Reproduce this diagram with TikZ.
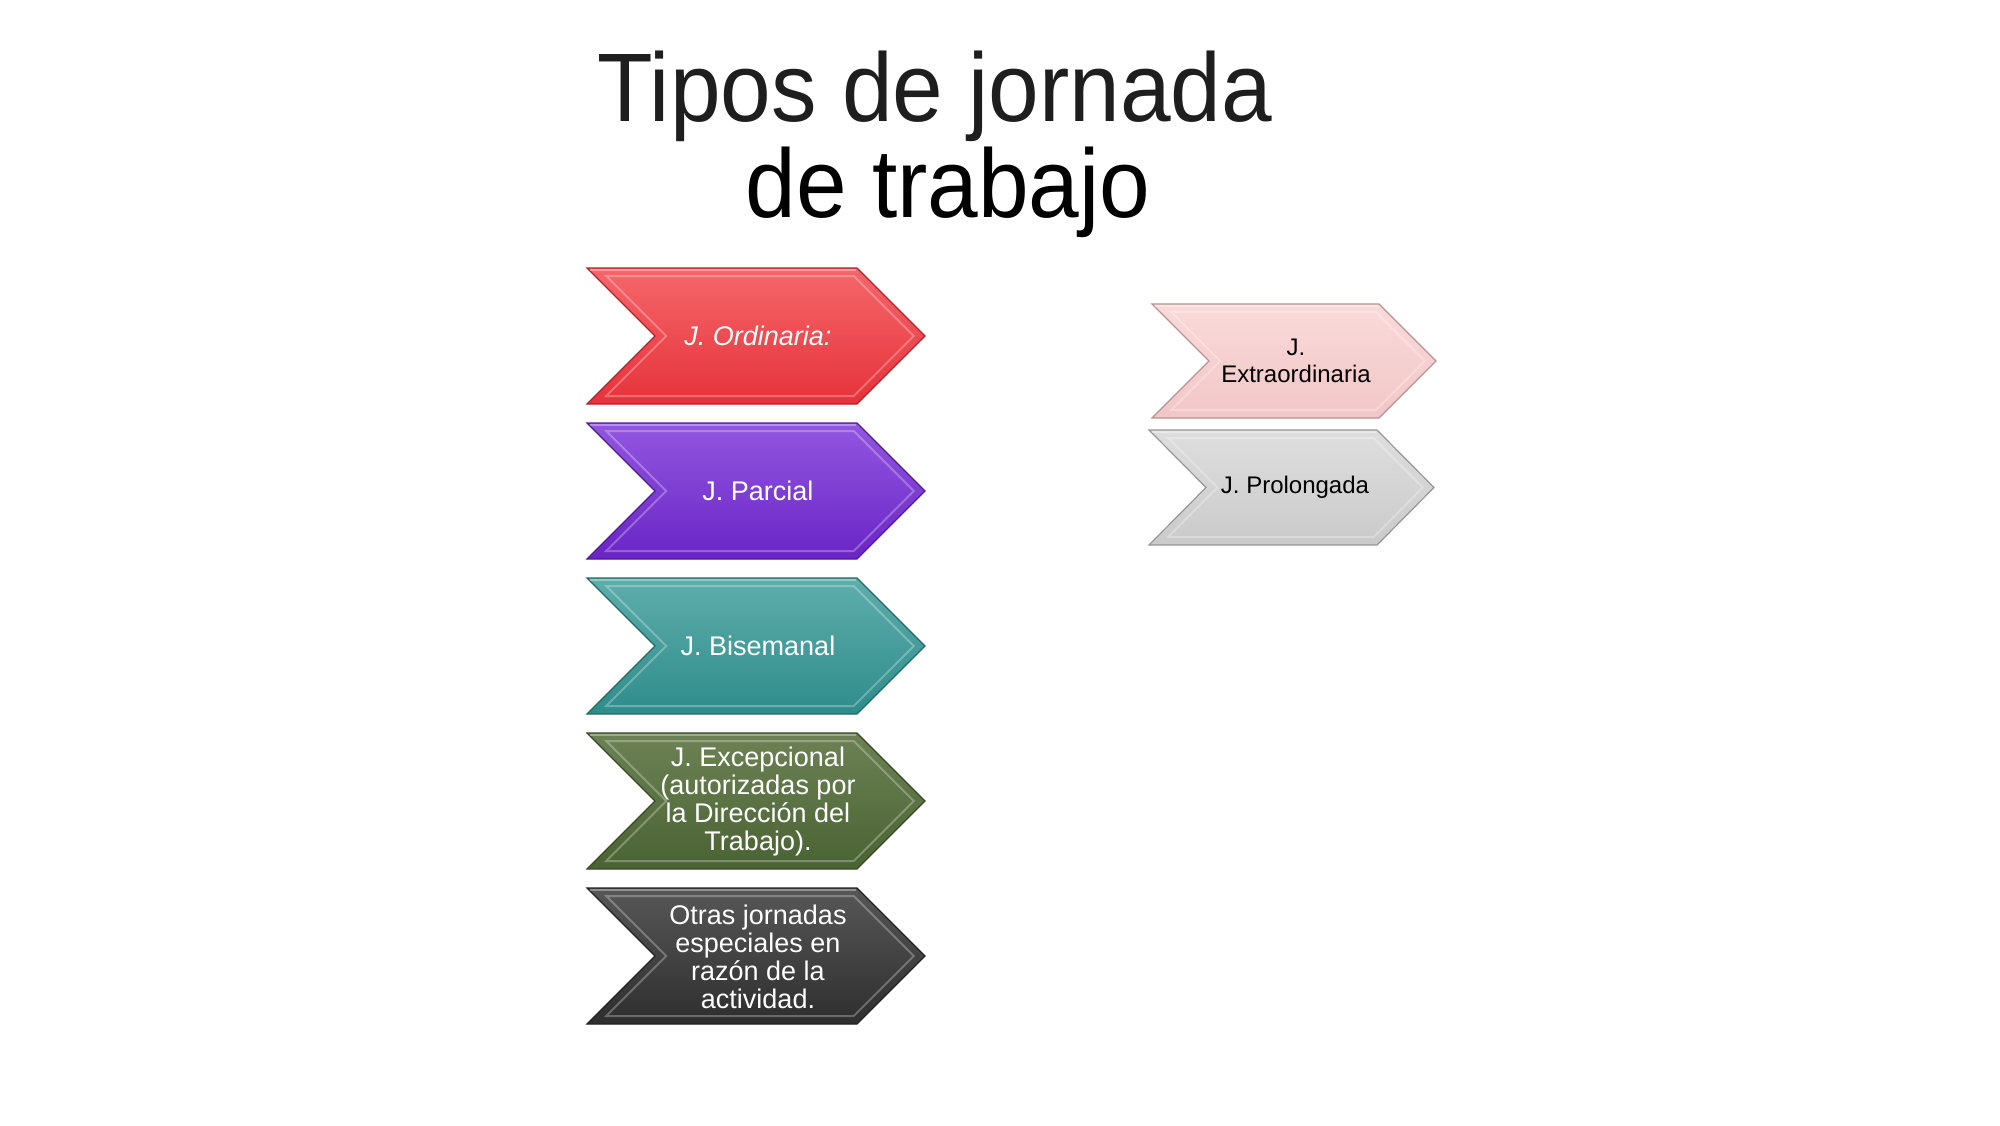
\documentclass[tikz,border=0pt]{standalone}
\usepackage{fontspec}
\usepackage{graphicx}
\setmainfont{Liberation Sans}
\definecolor{redT}{HTML}{F5676B}\definecolor{redB}{HTML}{E6323A}
\definecolor{purT}{HTML}{9257E0}\definecolor{purB}{HTML}{6A24C6}
\definecolor{teaT}{HTML}{5EAEAC}\definecolor{teaB}{HTML}{2E8C8A}
\definecolor{greT}{HTML}{6C8254}\definecolor{greB}{HTML}{4A6333}
\definecolor{drkT}{HTML}{575757}\definecolor{drkB}{HTML}{2E2E2E}
\definecolor{pinT}{HTML}{FADADA}\definecolor{pinB}{HTML}{F2C6C6}
\definecolor{gryT}{HTML}{DEDEDE}\definecolor{gryB}{HTML}{CACACA}
\definecolor{titlec}{HTML}{1E1E1E}
% #1 x1, #2 y1, #3 x2, #4 y2, #5 depth, #6 top colour, #7 bottom colour
\newcommand\chevshape[7]{%
  \path[top color=#6, bottom color=#7, draw=#7!75!black, line width=1.2pt, line join=miter]
    (#1,#2) -- ({#3-#5},#2) -- (#3,{(#2+#4)/2}) -- ({#3-#5},#4) -- (#1,#4)
    -- ({#1+#5},{(#2+#4)/2}) -- cycle;
  \draw[white, opacity=.28, line width=2pt]
    ({#1+19.3},{#2+8}) -- ({#3-#5-3.3},{#2+8}) -- ({#3-11.3},{(#2+#4)/2})
    -- ({#3-#5-3.3},{#4-8}) -- ({#1+19.3},{#4-8}) -- ({#1+#5+11.3},{(#2+#4)/2}) -- cycle;
  \draw[white, opacity=.35, line width=2pt] ({#1+3},{#2+1.5}) -- ({#3-#5-1},{#2+1.5});
}
\tikzset{
  lab/.style={align=center, inner sep=0pt, font=\fontsize{27}{28}\selectfont},
  labs/.style={align=center, inner sep=0pt, font=\fontsize{24}{27}\selectfont},
}
\begin{document}
\begin{tikzpicture}[x=1pt, y=-1pt]
\useasboundingbox (0,0) rectangle (2000,1125);
\fill[white] (0,0) rectangle (2000,1125);

\node[anchor=base, text=titlec, inner sep=0pt, font=\fontsize{91}{96}\selectfont] (title1) at (935,121) {\scalebox{1}[1.07]{Tipos de jornada}};
\node[anchor=base, text=black, inner sep=0pt, font=\fontsize{91}{96}\selectfont] (title2) at (948,217) {\scalebox{1}[1.07]{de trabajo}};

% left column
\chevshape{587}{268}{925}{404}{68}{redT}{redB}
\chevshape{587}{423}{925}{559}{68}{purT}{purB}
\chevshape{587}{578}{925}{714}{68}{teaT}{teaB}
\chevshape{587}{733}{925}{869}{68}{greT}{greB}
\chevshape{587}{888}{925}{1024}{68}{drkT}{drkB}

\node[lab, text=white] (ord) at (758,336) {\itshape J. Ordinaria:};
\node[lab, text=white] (par) at (758,491) {J. Parcial};
\node[lab, text=white] (bis) at (758,646) {J. Bisemanal};
\node[lab, text=white] (exc) at (758,802) {J. Excepcional\\(autorizadas por\\la Dirección del\\Trabajo).};
\node[lab, text=white] (otr) at (758,957) {Otras jornadas\\especiales en\\razón de la\\actividad.};

% right column
\chevshape{1152}{304}{1436}{418}{57}{pinT}{pinB}
\chevshape{1149}{430}{1434}{545}{57}{gryT}{gryB}

\node[labs, text=black] (ext) at (1296,361) {J.\\Extraordinaria};
\node[labs, text=black] (pro) at (1295,487) {J. Prolongada};
\end{tikzpicture}
\end{document}
